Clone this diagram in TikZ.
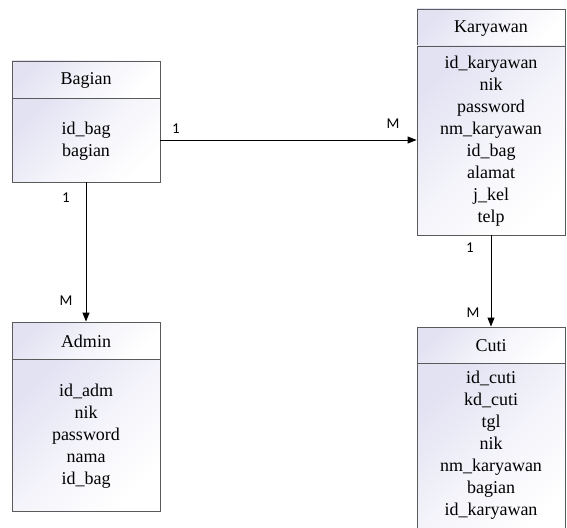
\documentclass[tikz,border=0pt]{standalone}
\usepackage{fontspec}
\setmainfont{Liberation Serif}
\newfontfamily\lblfont{Carlito}
\newfontfamily\boxfont{Liberation Serif}
\usetikzlibrary{arrows.meta}
\definecolor{lav}{RGB}{226,226,243}
\definecolor{edge}{RGB}{90,90,90}
\tikzset{
  part/.style={draw=edge, line width=0.9pt, top color=lav, bottom color=white, middle color=lav!40!white, shading angle=45, inner sep=0pt},
  ttl/.style={font=\boxfont\fontsize{18}{22}\selectfont},
  attrs/.style={font=\boxfont\fontsize{18}{22}\selectfont, align=center, inner sep=0pt},
  rel/.style={draw=black, line width=1pt, -{Triangle[length=9pt,width=7pt]}},
  card/.style={font=\lblfont\fontsize{15}{15}\selectfont, inner sep=0pt}
}
\begin{document}
\begin{tikzpicture}[x=1pt,y=-1pt]
\useasboundingbox[fill=white] (0,0) rectangle (567,527);
% Bagian
\node[part, minimum width=148pt, minimum height=37pt] (bagh) at (86,79.5) {};
\node[part, minimum width=148pt, minimum height=84pt] (bagb) at (86,140) {};
\node[ttl] (bagt) at ([yshift=-1pt]bagh.center) {Bagian};
\node[attrs] (baga) at (86,141) {id\_bag\\bagian};
% Karyawan
\node[part, minimum width=148pt, minimum height=37pt] (karh) at (491,27.5) {};
\node[part, minimum width=148pt, minimum height=189pt] (karb) at (491,140.5) {};
\node[ttl] (kart) at ([yshift=-1pt]karh.center) {Karyawan};
\node[attrs] (kara) at (491,141) {id\_karyawan\\nik\\password\\nm\_karyawan\\id\_bag\\alamat\\j\_kel\\telp};
% Admin
\node[part, minimum width=148pt, minimum height=37pt] (admh) at (86,340.5) {};
\node[part, minimum width=148pt, minimum height=152pt] (admb) at (86,435) {};
\node[ttl] (admt) at ([yshift=-1pt]admh.center) {Admin};
\node[attrs] (adma) at (86,436) {id\_adm\\nik\\password\\nama\\id\_bag};
% Cuti
\node[part, minimum width=148pt, minimum height=36pt] (cutih) at (491,345) {};
\node[part, minimum width=148pt, minimum height=180pt] (cutib) at (491,453) {};
\node[ttl] (cutit) at ([yshift=-1pt]cutih.center) {Cuti};
\node[attrs, anchor=north] (cutia) at (491,371) {id\_cuti\\kd\_cuti\\tgl\\nik\\nm\_karyawan\\bagian\\id\_karyawan};
% relations
\draw[rel] (bagb.east) -- (bagb.east -| karb.west);
\draw[rel] (bagb.south) -- (admh.north);
\draw[rel] (karb.south) -- (cutih.north);
% cardinalities
\node[card] (c1) at (176,129) {1};
\node[card] (c2) at (393,124) {M};
\node[card] (c3) at (66,198) {1};
\node[card] (c4) at (66,301) {M};
\node[card] (c5) at (470,248) {1};
\node[card] (c6) at (473,313) {M};
\end{tikzpicture}
\end{document}
